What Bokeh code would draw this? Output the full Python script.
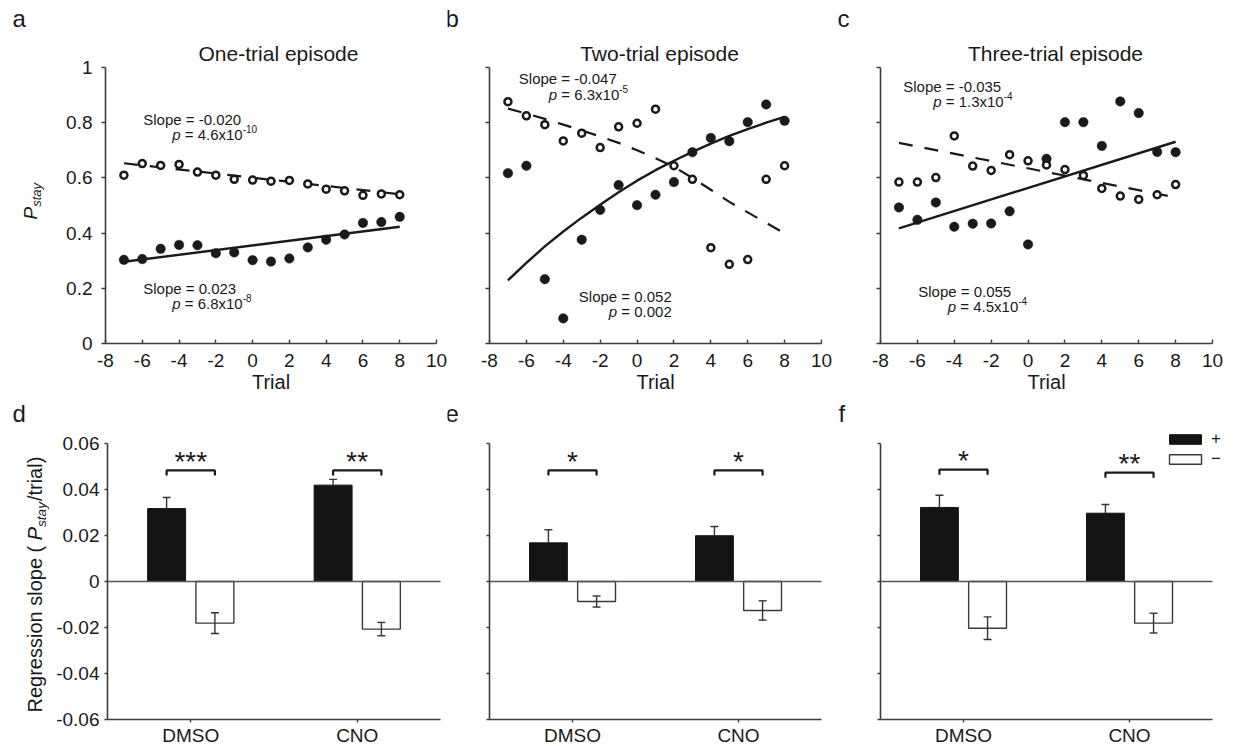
import math
from bokeh.plotting import figure
from bokeh.models import (Range1d, FixedTicker, CustomJSTickFormatter, Label, LinearAxis,
                          Legend, LegendItem)
from bokeh.layouts import column, row
from bokeh.embed import file_html
from bokeh.resources import INLINE

# ---------------- data ----------------
trials = [-7, -6, -5, -4, -3, -2, -1, 0, 1, 2, 3, 4, 5, 6, 7, 8]

one_plus = [0.303, 0.306, 0.343, 0.357, 0.356, 0.327, 0.330, 0.302,
            0.297, 0.308, 0.348, 0.376, 0.395, 0.437, 0.440, 0.459]
one_minus = [0.610, 0.652, 0.645, 0.649, 0.621, 0.610, 0.595, 0.592,
             0.588, 0.591, 0.578, 0.559, 0.553, 0.537, 0.542, 0.539]
two_plus = [0.617, 0.644, 0.233, 0.091, 0.376, 0.484, 0.574, 0.501,
            0.539, 0.585, 0.693, 0.745, 0.733, 0.802, 0.866, 0.807]
two_minus = [0.876, 0.825, 0.793, 0.734, 0.762, 0.710, 0.785, 0.798,
             0.849, 0.644, 0.595, 0.347, 0.287, 0.304, 0.595, 0.644]
three_plus = [0.493, 0.448, 0.511, 0.423, 0.434, 0.435, 0.479, 0.359,
              0.669, 0.802, 0.802, 0.716, 0.877, 0.835, 0.694, 0.693]
three_minus = [0.585, 0.585, 0.601, 0.752, 0.643, 0.627, 0.684, 0.662,
               0.647, 0.630, 0.609, 0.562, 0.534, 0.522, 0.539, 0.576]

# fitted curves
fit_ends = [-7, 8]
one_fit_plus = [0.296, 0.423]
one_fit_minus = [0.653, 0.541]
two_fit_plus = [0.229, 0.292, 0.352, 0.406, 0.456, 0.503, 0.548, 0.590,
                0.628, 0.662, 0.694, 0.724, 0.752, 0.777, 0.800, 0.821]
two_fit_minus = [0.851, 0.833, 0.814, 0.793, 0.772, 0.750, 0.727, 0.700,
                 0.671, 0.640, 0.600, 0.557, 0.513, 0.475, 0.437, 0.399]
three_fit_plus = [0.417, 0.731]
three_fit_minus = [0.727, 0.529]

titles = ["One-trial episode", "Two-trial episode", "Three-trial episode"]
slope_minus = ["-0.020", "-0.047", "-0.035"]
p_minus = [("4.6x10", "-10"), ("6.3x10", "-5"), ("1.3x10", "-4")]
slope_plus = ["0.023", "0.052", "0.055"]
p_plus = [("6.8x10", "-8"), ("0.002", None), ("4.5x10", "-4")]

x_ticks = [-8, -6, -4, -2, 0, 2, 4, 6, 8, 10]
y_ticks_top = [0, 0.2, 0.4, 0.6, 0.8, 1.0]
y_ticks_bar = [-0.06, -0.04, -0.02, 0, 0.02, 0.04, 0.06]

groups = ["DMSO", "CNO"]
d_plus = [0.0317, 0.0419]; d_plus_err = [0.0048, 0.0025]
d_minus = [-0.0181, -0.0207]; d_minus_err = [0.0045, 0.0029]
e_plus = [0.0168, 0.0199]; e_plus_err = [0.0057, 0.0040]
e_minus = [-0.0087, -0.0126]; e_minus_err = [0.0024, 0.0042]
f_plus = [0.0322, 0.0297]; f_plus_err = [0.0053, 0.0038]
f_minus = [-0.0203, -0.0181]; f_minus_err = [0.0049, 0.0043]
d_stars = ["***", "**"]; d_bracket = [0.0483, 0.0483]
e_stars = ["*", "*"]; e_bracket = [0.0483, 0.0483]
f_stars = ["*", "**"]; f_bracket = [0.0486, 0.0473]
legend_labels = ["+", "\u2212"]

# ---------------- styling ----------------
FONT = "Liberation Sans"
INK = "#1a1a1a"
AX = "#3c3c3c"
BASE_CORR = 0.38  # empirical shift of the alphabetic baseline in Bokeh's text box

AW = {' ': 278, '(': 333, ')': 333, '*': 389, '+': 584, '-': 333, '.': 278, '/': 278,
      '=': 584, 'x': 500, 'p': 556, 'S': 667, 'l': 222, 'o': 556, 'e': 556, 's': 500,
      't': 278, 'a': 556, 'y': 500, 'r': 333, 'i': 222, 'g': 556, 'n': 556, 'R': 722,
      'P': 667}


def tw(s, size):
    return sum(AW.get(c, 556) for c in s) / 1000.0 * size


def make_panel(canvas, box, xr, yr):
    """canvas / box: (left, top, right, bottom) in page pixels; the frame fills the canvas."""
    cx0, cy0, cx1, cy1 = canvas
    L, T, R, B = box
    sx = (xr[1] - xr[0]) / (R - L)
    sy = (yr[1] - yr[0]) / (B - T)
    full_x = (xr[0] - (L - cx0) * sx, xr[1] + (cx1 - R) * sx)
    full_y = (yr[0] - (cy1 - B) * sy, yr[1] + (T - cy0) * sy)
    p = figure(width=cx1 - cx0, height=cy1 - cy0,
               x_range=Range1d(*full_x), y_range=Range1d(*full_y),
               x_axis_location=None, y_axis_location=None,
               output_backend="svg", toolbar_location=None, tools="",
               min_border=0, min_border_left=0, min_border_right=0,
               min_border_top=0, min_border_bottom=0)
    if p.title is not None:
        p.title.visible = False
    p.outline_line_color = None
    p.grid.visible = False
    p.background_fill_color = "white"
    p.border_fill_color = "white"

    def conv(px, py):
        return (xr[0] + (px - L) * sx, yr[0] + (B - py) * sy)
    return p, conv


def style_axis(ax, tick_in, tick_out, standoff):
    ax.axis_line_color = AX
    ax.axis_line_width = 1.6
    ax.major_tick_line_color = AX
    ax.major_tick_line_width = 1.4
    ax.minor_tick_line_color = None
    ax.major_tick_in = tick_in
    ax.major_tick_out = tick_out
    ax.major_label_standoff = standoff
    ax.major_label_text_font = FONT
    ax.major_label_text_font_size = "19px"
    ax.major_label_text_color = INK


def add(p, x, y, text, size, style="normal", align="left", angle=0.0, xo=0.0, yo=0.0,
        corr=True):
    if corr:
        if angle == 0.0:
            yo += BASE_CORR * size
        else:
            xo -= BASE_CORR * size
    p.add_layout(Label(x=x, y=y, text=text, text_font=FONT, text_font_size=f"{size}px",
                       text_font_style=style, text_color=INK, text_align=align,
                       text_baseline="alphabetic", angle=angle, x_offset=xo, y_offset=yo))


def p_line(p, conv, px, py, mant, exp, size=15):
    x, y = conv(px, py)
    add(p, x, y, "p", size, style="italic")
    off = tw("p = ", size)
    add(p, x, y, "=", size, xo=tw("p ", size))
    add(p, x, y, mant, size, xo=off)
    if exp:
        add(p, x, y, exp, 10, xo=off + tw(mant, size), yo=7.5)


EMPTY = "return ''"

# ---------------- geometry (page pixels) ----------------
ROW1 = (0, 392)
ROW2 = (392, 746)
COLS = [(0, 447), (447, 834), (834, 1236)]
top_boxes = [(105, 67, 436, 343), (489, 67, 821, 343), (880, 67, 1212, 343)]
bot_boxes = [(107, 443, 440, 719), (489, 443, 821, 719), (880, 443, 1212, 719)]

ann_upper = [((142.7, 124.3), (171.7, 139.3)), ((518.3, 84.0), (548.3, 99.3)),
             ((902.7, 91.7), (932.7, 106.7))]
ann_lower = [((142.7, 294.0), (171.7, 309.0)), ((578.3, 301.7), (608.3, 316.7)),
             ((917.7, 296.7), (947.3, 311.7))]
title_cx = [278, 659, 1055]
letters_top = [("a", 12), ("b", 445), ("c", 837)]
letters_bot = [("d", 12), ("e", 445), ("f", 838)]

scatter_sets = [
    (one_plus, one_minus, fit_ends, one_fit_plus, fit_ends, one_fit_minus),
    (two_plus, two_minus, trials, two_fit_plus, trials, two_fit_minus),
    (three_plus, three_minus, fit_ends, three_fit_plus, fit_ends, three_fit_minus),
]

top_figs = []
for i, (cx0, cx1) in enumerate(COLS):
    xr, yr = (-8, 10), (0, 1)
    box = top_boxes[i]
    p, conv = make_panel((cx0, ROW1[0], cx1, ROW1[1]), box, xr, yr)
    xa = LinearAxis(fixed_location=yr[0], bounds=xr, ticker=FixedTicker(ticks=x_ticks),
                    formatter=CustomJSTickFormatter(code="return String(tick)"))
    style_axis(xa, 4, 0, 10)
    p.add_layout(xa, "below")
    ya = LinearAxis(fixed_location=xr[0], bounds=yr, ticker=FixedTicker(ticks=y_ticks_top),
                    formatter=CustomJSTickFormatter(
                        code="return String(Math.round(tick*10)/10)" if i == 0 else EMPTY))
    style_axis(ya, 0, 4, 9)
    p.add_layout(ya, "left")

    plus, minus, fxp, fyp, fxm, fym = scatter_sets[i]
    p.line(fxm, fym, line_color=INK, line_width=2.2, line_dash="14 12")
    p.line(fxp, fyp, line_color=INK, line_width=2.4)
    p.scatter(trials, plus, size=9.5, fill_color=INK, line_color=INK, line_width=0.5)
    p.scatter(trials, minus, size=7, fill_color="white", line_color=INK, line_width=2.5)

    (sx_, sy_), (qx, qy) = ann_upper[i]
    x, y = conv(sx_, sy_)
    add(p, x, y, "Slope = " + slope_minus[i], 15)
    p_line(p, conv, qx, qy, *p_minus[i])
    (sx_, sy_), (qx, qy) = ann_lower[i]
    x, y = conv(sx_, sy_)
    add(p, x, y, "Slope = " + slope_plus[i], 15)
    p_line(p, conv, qx, qy, *p_plus[i])

    x, y = conv(title_cx[i], 60.7)
    add(p, x, y, titles[i], 21, align="center")
    x, y = conv((box[0] + box[2]) / 2, 389)
    add(p, x, y, "Trial", 20, align="center")
    lt, lx = letters_top[i]
    x, y = conv(lx, 27)
    add(p, x, y, lt, 24)
    if i == 0:
        x, y = conv(37, 219)
        add(p, x, y, "P", 19, style="italic", angle=math.pi / 2)
        x, y = conv(41, 219 - tw("P", 19))
        add(p, x, y, "stay", 13, style="italic", angle=math.pi / 2)
    top_figs.append(p)

bar_sets = [
    (d_plus, d_plus_err, d_minus, d_minus_err, d_stars, d_bracket),
    (e_plus, e_plus_err, e_minus, e_minus_err, e_stars, e_bracket),
    (f_plus, f_plus_err, f_minus, f_minus_err, f_stars, f_bracket),
]
OFF, BW, CAP, TICKH = 0.145, 0.228, 0.024, 0.0022
ERR = "#333333"

bot_figs = []
for i, (cx0, cx1) in enumerate(COLS):
    xr, yr = (0, 2), (-0.06, 0.06)
    box = bot_boxes[i]
    p, conv = make_panel((cx0, ROW2[0], cx1, ROW2[1]), box, xr, yr)
    centers = [k + 0.5 for k in range(len(groups))]
    xa = LinearAxis(fixed_location=yr[0], bounds=xr, ticker=FixedTicker(ticks=centers),
                    formatter=CustomJSTickFormatter(args=dict(names=groups),
                                                    code="return names[Math.round(tick-0.5)]"))
    style_axis(xa, 0, 3, 2)
    p.add_layout(xa, "below")
    zero = LinearAxis(fixed_location=0, bounds=xr, ticker=FixedTicker(ticks=[]),
                      formatter=CustomJSTickFormatter(code=EMPTY))
    style_axis(zero, 0, 0, 0)
    zero.axis_line_color = "#555555"
    zero.axis_line_width = 1.4
    p.add_layout(zero, "below")
    ya = LinearAxis(fixed_location=xr[0], bounds=yr, ticker=FixedTicker(ticks=y_ticks_bar),
                    formatter=CustomJSTickFormatter(
                        code="return String(Math.round(tick*100)/100)" if i == 0 else EMPTY))
    style_axis(ya, 0, 3, 5)
    p.add_layout(ya, "left")

    plus, perr, minus, merr, stars, brk = bar_sets[i]
    xp = [c - OFF for c in centers]
    xm = [c + OFF for c in centers]

    rb = p.vbar(x=xp, width=BW, top=plus, bottom=0, fill_color="#141414",
                line_color="#141414", line_width=1)
    rw = p.vbar(x=xm, width=BW, top=0, bottom=minus, fill_color="white",
                line_color="#3a3a3a", line_width=1.4)
    up = [v + e for v, e in zip(plus, perr)]
    p.segment(x0=xp, y0=plus, x1=xp, y1=up, line_color=ERR, line_width=1.4)
    p.segment(x0=[x - CAP for x in xp], y0=up, x1=[x + CAP for x in xp], y1=up,
              line_color=ERR, line_width=1.4)
    lo = [v - e for v, e in zip(minus, merr)]
    hi = [v + e for v, e in zip(minus, merr)]
    p.segment(x0=xm, y0=lo, x1=xm, y1=hi, line_color=ERR, line_width=1.4)
    for yy in (lo, hi):
        p.segment(x0=[x - CAP for x in xm], y0=yy, x1=[x + CAP for x in xm], y1=yy,
                  line_color=ERR, line_width=1.4)
    p.multi_line(xs=[[a, a, b, b] for a, b in zip(xp, xm)],
                 ys=[[h - TICKH, h, h, h - TICKH] for h in brk],
                 line_color=INK, line_width=2.2)
    for c, s, h in zip(centers, stars, brk):
        add(p, c, h, s, 28, align="center", yo=9, corr=False)

    lt, lx = letters_bot[i]
    x, y = conv(lx, 421.7)
    add(p, x, y, lt, 24)

    if i == 0:
        F, FS = 20, 13.5
        y0 = 712
        part1 = "Regression slope ("
        x, y = conv(42, y0)
        add(p, x, y, part1, F, angle=math.pi / 2)
        y0 -= tw(part1 + " ", F)
        x, y = conv(42, y0)
        add(p, x, y, "P", F, style="italic", angle=math.pi / 2)
        y0 -= tw("P", F)
        x, y = conv(46, y0)
        add(p, x, y, "stay", FS, style="italic", angle=math.pi / 2)
        y0 -= tw("stay", FS) + 1
        x, y = conv(42, y0)
        add(p, x, y, "/trial)", F, angle=math.pi / 2)

    if i == 2:
        leg = Legend(items=[LegendItem(label=legend_labels[0], renderers=[rb]),
                            LegendItem(label=legend_labels[1], renderers=[rw])],
                     location=(1165 - cx0, ROW2[1] - 469), orientation="vertical",
                     glyph_width=40, glyph_height=12, label_standoff=6, spacing=0,
                     padding=0, margin=0, border_line_color=None,
                     background_fill_alpha=0, label_text_font=FONT,
                     label_text_font_size="17px", label_text_color=INK,
                     label_height=12)
        p.add_layout(leg)
    bot_figs.append(p)

layout = column(row(*top_figs, spacing=0), row(*bot_figs, spacing=0), spacing=0)
open("out.html", "w").write(file_html(layout, INLINE))
